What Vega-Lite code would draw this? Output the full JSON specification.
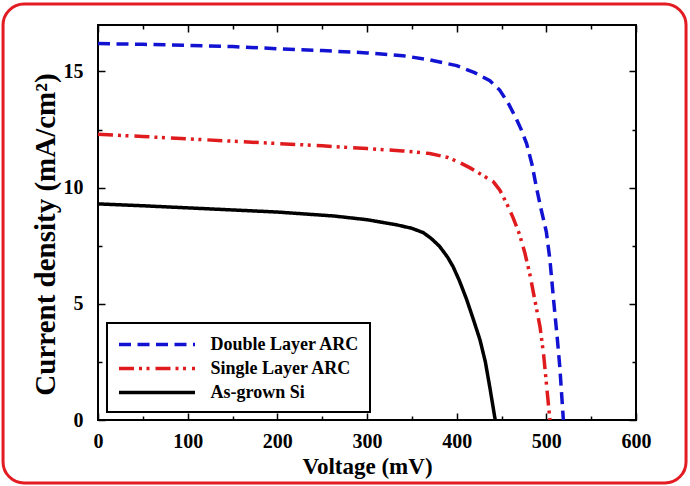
{
  "$schema": "https://vega.github.io/schema/vega-lite/v6.json",
  "width": 538,
  "height": 395,
  "autosize": {"type": "none"},
  "padding": {"left": 98, "top": 25, "right": 54, "bottom": 66},
  "background": "white",
  "datasets": {
    "iv": [
      {"series": "Double Layer ARC", "V": 0, "J": 16.2},
      {"series": "Double Layer ARC", "V": 50, "J": 16.17},
      {"series": "Double Layer ARC", "V": 100, "J": 16.12},
      {"series": "Double Layer ARC", "V": 150, "J": 16.07},
      {"series": "Double Layer ARC", "V": 200, "J": 15.98},
      {"series": "Double Layer ARC", "V": 250, "J": 15.9},
      {"series": "Double Layer ARC", "V": 300, "J": 15.8},
      {"series": "Double Layer ARC", "V": 340, "J": 15.68},
      {"series": "Double Layer ARC", "V": 370, "J": 15.5},
      {"series": "Double Layer ARC", "V": 400, "J": 15.25},
      {"series": "Double Layer ARC", "V": 420, "J": 14.95},
      {"series": "Double Layer ARC", "V": 437, "J": 14.6},
      {"series": "Double Layer ARC", "V": 448, "J": 14.2},
      {"series": "Double Layer ARC", "V": 458, "J": 13.6},
      {"series": "Double Layer ARC", "V": 466, "J": 13.0},
      {"series": "Double Layer ARC", "V": 472, "J": 12.5},
      {"series": "Double Layer ARC", "V": 478, "J": 11.9},
      {"series": "Double Layer ARC", "V": 484, "J": 11.0},
      {"series": "Double Layer ARC", "V": 489, "J": 10.0},
      {"series": "Double Layer ARC", "V": 494, "J": 9.1},
      {"series": "Double Layer ARC", "V": 500, "J": 8.1},
      {"series": "Double Layer ARC", "V": 504, "J": 6.9},
      {"series": "Double Layer ARC", "V": 508, "J": 5.2},
      {"series": "Double Layer ARC", "V": 512, "J": 3.6},
      {"series": "Double Layer ARC", "V": 515, "J": 2.3},
      {"series": "Double Layer ARC", "V": 519, "J": 0},
      {"series": "Single Layer ARC", "V": 0, "J": 12.3},
      {"series": "Single Layer ARC", "V": 50, "J": 12.2},
      {"series": "Single Layer ARC", "V": 100, "J": 12.1},
      {"series": "Single Layer ARC", "V": 150, "J": 12.0},
      {"series": "Single Layer ARC", "V": 200, "J": 11.9},
      {"series": "Single Layer ARC", "V": 250, "J": 11.8},
      {"series": "Single Layer ARC", "V": 300, "J": 11.68},
      {"series": "Single Layer ARC", "V": 340, "J": 11.58},
      {"series": "Single Layer ARC", "V": 370, "J": 11.47},
      {"series": "Single Layer ARC", "V": 390, "J": 11.3},
      {"series": "Single Layer ARC", "V": 404, "J": 11.07},
      {"series": "Single Layer ARC", "V": 415, "J": 10.85},
      {"series": "Single Layer ARC", "V": 426, "J": 10.6},
      {"series": "Single Layer ARC", "V": 441, "J": 10.25},
      {"series": "Single Layer ARC", "V": 448, "J": 9.9},
      {"series": "Single Layer ARC", "V": 452, "J": 9.6},
      {"series": "Single Layer ARC", "V": 456, "J": 9.3},
      {"series": "Single Layer ARC", "V": 463, "J": 8.7},
      {"series": "Single Layer ARC", "V": 470, "J": 8.0},
      {"series": "Single Layer ARC", "V": 476, "J": 7.2},
      {"series": "Single Layer ARC", "V": 482, "J": 6.2},
      {"series": "Single Layer ARC", "V": 487, "J": 5.2},
      {"series": "Single Layer ARC", "V": 493, "J": 4.0},
      {"series": "Single Layer ARC", "V": 497, "J": 2.8},
      {"series": "Single Layer ARC", "V": 500, "J": 1.6},
      {"series": "Single Layer ARC", "V": 504, "J": 0},
      {"series": "As-grown Si", "V": 0, "J": 9.3},
      {"series": "As-grown Si", "V": 50, "J": 9.22},
      {"series": "As-grown Si", "V": 100, "J": 9.13},
      {"series": "As-grown Si", "V": 150, "J": 9.04},
      {"series": "As-grown Si", "V": 200, "J": 8.95},
      {"series": "As-grown Si", "V": 263, "J": 8.78},
      {"series": "As-grown Si", "V": 300, "J": 8.62},
      {"series": "As-grown Si", "V": 333, "J": 8.4},
      {"series": "As-grown Si", "V": 350, "J": 8.25},
      {"series": "As-grown Si", "V": 363, "J": 8.06},
      {"series": "As-grown Si", "V": 372, "J": 7.8},
      {"series": "As-grown Si", "V": 381, "J": 7.47},
      {"series": "As-grown Si", "V": 390, "J": 7.0},
      {"series": "As-grown Si", "V": 396, "J": 6.6},
      {"series": "As-grown Si", "V": 403, "J": 6.0},
      {"series": "As-grown Si", "V": 411, "J": 5.2},
      {"series": "As-grown Si", "V": 418, "J": 4.4},
      {"series": "As-grown Si", "V": 426, "J": 3.45},
      {"series": "As-grown Si", "V": 432, "J": 2.5},
      {"series": "As-grown Si", "V": 437, "J": 1.4},
      {"series": "As-grown Si", "V": 443, "J": 0}
    ]
  },
  "layer": [
    {
      "data": {"name": "iv"},
      "mark": {"type": "line", "strokeWidth": 3.5, "strokeCap": "butt", "clip": true},
      "encoding": {
        "x": {
          "field": "V",
          "type": "quantitative",
          "scale": {"domain": [0, 600], "nice": false, "zero": false},
          "axis": {
            "orient": "bottom",
            "values": [0, 50, 100, 150, 200, 250, 300, 350, 400, 450, 500, 550, 600],
            "labelExpr": "datum.value % 100 === 0 ? datum.label : ''",
            "tickSize": {"condition": {"test": "datum.value % 100 === 0", "value": -7}, "value": -4},
            "labelPadding": 18,
            "labelFlush": false,
            "title": "Voltage (mV)",
            "titleFontSize": 23,
            "titlePadding": 4
          }
        },
        "y": {
          "field": "J",
          "type": "quantitative",
          "scale": {"domain": [0, 17], "nice": false, "zero": false},
          "axis": {
            "orient": "left",
            "values": [0, 2.5, 5, 7.5, 10, 12.5, 15],
            "labelExpr": "datum.value % 5 === 0 ? datum.label : ''",
            "tickSize": {"condition": {"test": "datum.value % 5 === 0", "value": -7}, "value": -4},
            "labelPadding": 22,
            "title": "Current density (mA/cm²)",
            "titleFontSize": 29,
            "titlePadding": 3,
            "titleY": 209
          }
        },
        "color": {
          "field": "series",
          "type": "nominal",
          "scale": {
            "domain": ["Double Layer ARC", "Single Layer ARC", "As-grown Si"],
            "range": ["#1212d2", "#e01b1e", "#000000"]
          },
          "legend": {
            "orient": "none",
            "legendX": 9,
            "legendY": 298,
            "title": null
          }
        },
        "strokeDash": {
          "field": "series",
          "type": "nominal",
          "scale": {
            "domain": ["Double Layer ARC", "Single Layer ARC", "As-grown Si"],
            "range": [[12, 6.5], [15, 5, 3, 4.5, 3, 6], [1, 0]]
          },
          "legend": {
            "orient": "none",
            "legendX": 9,
            "legendY": 298,
            "title": null
          }
        }
      }
    },
    {
      "data": {"values": [{}]},
      "mark": {
        "type": "rect",
        "fill": null,
        "fillOpacity": 0,
        "stroke": "#e31b23",
        "strokeWidth": 3,
        "cornerRadius": 21,
        "clip": false
      },
      "encoding": {
        "x": {
          "datum": -105.9,
          "type": "quantitative",
          "scale": {"domain": [0, 600], "nice": false, "zero": false},
          "axis": {
            "orient": "top",
            "values": [0, 50, 100, 150, 200, 250, 300, 350, 400, 450, 500, 550, 600],
            "labels": false,
            "title": null,
            "tickSize": {"condition": {"test": "datum.value % 100 === 0", "value": -7}, "value": -4}
          }
        },
        "x2": {"datum": 655.8},
        "y": {
          "datum": 17.9,
          "type": "quantitative",
          "scale": {"domain": [0, 17], "nice": false, "zero": false},
          "axis": {
            "orient": "right",
            "values": [0, 2.5, 5, 7.5, 10, 12.5, 15],
            "labels": false,
            "title": null,
            "tickSize": {"condition": {"test": "datum.value % 5 === 0", "value": -7}, "value": -4}
          }
        },
        "y2": {"datum": -2.71}
      }
    }
  ],
  "resolve": {"axis": {"x": "independent", "y": "independent"}},
  "config": {
    "view": {"stroke": "#000000", "strokeWidth": 2},
    "axis": {
      "domain": false,
      "grid": false,
      "ticks": true,
      "tickColor": "#000000",
      "tickWidth": 1.5,
      "labelFont": "Liberation Serif",
      "labelFontWeight": "bold",
      "labelFontSize": 20,
      "labelColor": "#000000",
      "titleFont": "Liberation Serif",
      "titleFontWeight": "bold",
      "titleColor": "#000000"
    },
    "legend": {
      "symbolType": "M-4,0H4",
      "symbolSize": 361,
      "symbolOffset": 28.5,
      "symbolStrokeWidth": 3.5,
      "labelFont": "Liberation Serif",
      "labelFontWeight": "bold",
      "labelFontSize": 18,
      "labelColor": "#000000",
      "labelOffset": 42,
      "labelLimit": 300,
      "rowPadding": 3,
      "padding": 10,
      "strokeColor": "#000000",
      "strokeWidth": 2,
      "fillColor": "#ffffff"
    }
  }
}
